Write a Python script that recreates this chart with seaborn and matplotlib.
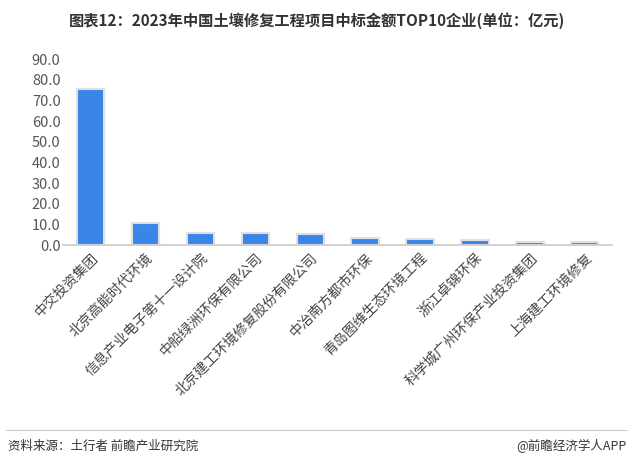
import matplotlib
matplotlib.use("Agg")
import matplotlib.pyplot as plt
import seaborn as sns

companies = ["中交投资集团", "北京高能时代环境", "信息产业电子第十一设计院", "中船绿洲环保有限公司",
             "北京建工环境修复股份有限公司", "中冶南方都市环保", "青岛图维生态环境工程",
             "浙江卓锦环保", "科学城广州环保产业投资集团", "上海建工环境修复"]
amounts = [75.5, 10.8, 6.0, 6.0, 5.5, 3.5, 3.1, 2.6, 1.6, 1.6]
yticks = [0, 10, 20, 30, 40, 50, 60, 70, 80, 90]

sns.set_theme(style="white")
plt.rcParams["font.family"] = ["Noto Sans CJK SC", "DejaVu Sans"]

fig = plt.figure(figsize=(6.33, 4.65), dpi=100)
ax = fig.add_axes([0.10, 0.473, 0.867, 0.40])
sns.barplot(x=companies, y=amounts, color="#3a86e8", width=0.5, saturation=1,
            edgecolor="#e0e0e0", linewidth=1.5, ax=ax)
ax.set_ylim(0, 90)
ax.set_yticks(yticks)
ax.set_yticklabels([f"{v:.1f}" for v in yticks], color="#555555", fontsize=10.5)
ax.set_xlim(-0.5, len(companies) - 0.5)
ax.set_xticks(range(len(companies)))
ax.set_xticklabels(companies, rotation=45, ha="right", rotation_mode="anchor",
                   fontsize=10, color="#444444")
for s in ["top", "right", "left"]:
    ax.spines[s].set_visible(False)
ax.spines["bottom"].set_color("#cccccc")
ax.tick_params(axis="y", length=0, pad=2)
ax.tick_params(axis="x", length=0, pad=4)

fig.text(0.5, 0.955, "图表12：2023年中国土壤修复工程项目中标金额TOP10企业(单位：亿元)",
         ha="center", va="center", fontsize=11, fontweight="bold", color="#333333")
fig.add_artist(plt.Line2D([0.01, 0.99], [0.075, 0.075], color="#cccccc", lw=0.8))
fig.text(0.012, 0.04, "资料来源：土行者 前瞻产业研究院", ha="left", va="center",
         fontsize=9, color="#333333")
fig.text(0.99, 0.04, "@前瞻经济学人APP", ha="right", va="center", fontsize=9, color="#333333")

fig.savefig("out.png", dpi=100)
